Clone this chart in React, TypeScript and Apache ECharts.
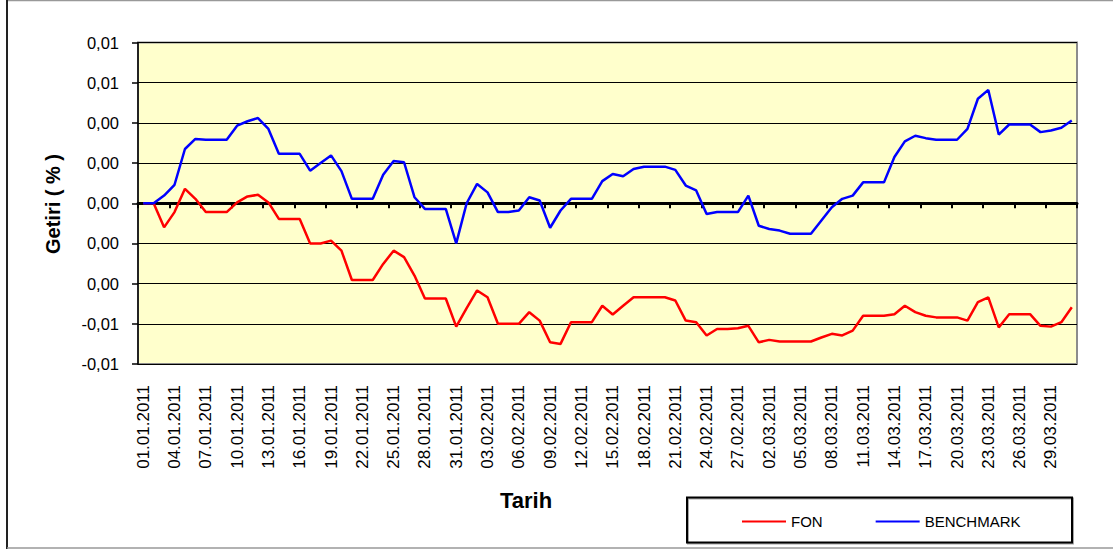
import React, { useEffect, useRef } from "react";
import * as echarts from "echarts";

const dates: string[] = [
  "01.01.2011","02.01.2011","03.01.2011","04.01.2011","05.01.2011","06.01.2011","07.01.2011","08.01.2011","09.01.2011","10.01.2011",
  "11.01.2011","12.01.2011","13.01.2011","14.01.2011","15.01.2011","16.01.2011","17.01.2011","18.01.2011","19.01.2011","20.01.2011",
  "21.01.2011","22.01.2011","23.01.2011","24.01.2011","25.01.2011","26.01.2011","27.01.2011","28.01.2011","29.01.2011","30.01.2011",
  "31.01.2011","01.02.2011","02.02.2011","03.02.2011","04.02.2011","05.02.2011","06.02.2011","07.02.2011","08.02.2011","09.02.2011",
  "10.02.2011","11.02.2011","12.02.2011","13.02.2011","14.02.2011","15.02.2011","16.02.2011","17.02.2011","18.02.2011","19.02.2011",
  "20.02.2011","21.02.2011","22.02.2011","23.02.2011","24.02.2011","25.02.2011","26.02.2011","27.02.2011","28.02.2011","01.03.2011",
  "02.03.2011","03.03.2011","04.03.2011","05.03.2011","06.03.2011","07.03.2011","08.03.2011","09.03.2011","10.03.2011","11.03.2011",
  "12.03.2011","13.03.2011","14.03.2011","15.03.2011","16.03.2011","17.03.2011","18.03.2011","19.03.2011","20.03.2011","21.03.2011",
  "22.03.2011","23.03.2011","24.03.2011","25.03.2011","26.03.2011","27.03.2011","28.03.2011","29.03.2011","30.03.2011","31.03.2011",
];

const fon: number[] = [
  0, 0, -0.0012, -0.00044, 0.00072, 0.00022, -0.00044, -0.00044, -0.00044, 0.00004,
  0.00034, 0.00042, 0.00004, -0.00078, -0.00078, -0.00078, -0.002, -0.002, -0.00186, -0.00236,
  -0.00382, -0.00382, -0.00382, -0.00302, -0.00236, -0.00268, -0.0036, -0.00474, -0.00474, -0.00474,
  -0.00614, -0.00522, -0.00434, -0.00468, -0.006, -0.006, -0.006, -0.00542, -0.00584, -0.00692,
  -0.007, -0.00592, -0.00592, -0.00592, -0.0051, -0.00554, -0.0051, -0.00468, -0.00468, -0.00468,
  -0.00468, -0.00484, -0.00584, -0.00592, -0.00658, -0.00626, -0.00626, -0.00622, -0.0061, -0.00692,
  -0.0068, -0.00688, -0.00688, -0.00688, -0.00688, -0.00668, -0.0065, -0.00658, -0.00634, -0.0056,
  -0.0056, -0.0056, -0.00552, -0.0051, -0.00542, -0.0056, -0.00568, -0.00568, -0.00568, -0.00584,
  -0.00492, -0.00468, -0.00618, -0.00552, -0.00552, -0.00552, -0.0061, -0.00614, -0.00592, -0.00518,
];

const benchmark: number[] = [
  0, 0, 0.00038, 0.00092, 0.0027, 0.0032, 0.00316, 0.00316, 0.00316, 0.00386,
  0.00408, 0.00424, 0.0037, 0.00246, 0.00246, 0.00246, 0.00162, 0.002, 0.00238, 0.0016,
  0.00022, 0.00022, 0.00022, 0.00142, 0.0021, 0.00204, 0.0003, -0.00028, -0.00028, -0.00028,
  -0.002, 0, 0.00096, 0.00054, -0.00044, -0.00044, -0.00036, 0.0003, 0.00014, -0.00122,
  -0.00036, 0.00022, 0.00022, 0.00022, 0.0011, 0.00146, 0.00134, 0.0017, 0.00182, 0.00182,
  0.00182, 0.00166, 0.00088, 0.00064, -0.00054, -0.00044, -0.00044, -0.00044, 0.00038, -0.00112,
  -0.00128, -0.00136, -0.00152, -0.00152, -0.00152, -0.00086, -0.0002, 0.00022, 0.00038, 0.00104,
  0.00104, 0.00104, 0.0023, 0.00308, 0.00336, 0.00324, 0.00316, 0.00316, 0.00316, 0.0037,
  0.0052, 0.00564, 0.00342, 0.00392, 0.00392, 0.00392, 0.00354, 0.00362, 0.00376, 0.00412,
];

const yMin = -0.008;
const yMax = 0.008;
const yStep = 0.002;
const yTickLabels: string[] = ["-0,01", "-0,01", "0,00", "0,00", "0,00", "0,00", "0,00", "0,01", "0,01"];

const seriesNames = ["FON", "BENCHMARK"];
const seriesColors = ["#FF0000", "#0000FF"];

const FONT = "'Liberation Sans', Arial, sans-serif";

export default function App() {
  const ref = useRef<HTMLDivElement>(null);
  useEffect(() => {
    if (!ref.current) return;
    const chart = echarts.init(ref.current, undefined, { renderer: "svg" });
    chart.setOption({
      animation: false,
      backgroundColor: "#FFFFFF",
      textStyle: { fontFamily: FONT },
      grid: {
        left: 138,
        right: 36,
        top: 42.5,
        bottom: 185,
        show: true,
        backgroundColor: "#FFFFCC",
        borderColor: "#8C8C8C",
        borderWidth: 2,
        containLabel: false,
      },
      legend: {
        left: 737,
        top: 509,
        icon: "rect",
        itemWidth: 44,
        itemHeight: 2,
        itemGap: 53,
        textStyle: { fontFamily: FONT, fontSize: 15, color: "#000" },
        data: seriesNames,
      },
      xAxis: [
        {
          type: "category",
          data: dates,
          position: "bottom",
          boundaryGap: true,
          axisLine: { show: false, onZero: false },
          axisTick: { show: false },
          splitLine: { show: false },
          axisLabel: {
            interval: 2,
            rotate: 90,
            margin: 21,
            fontSize: 17,
            color: "#000",
            fontFamily: FONT,
          },
        },
        {
          type: "category",
          data: dates,
          position: "bottom",
          boundaryGap: true,
          axisLine: { show: true, onZero: true, lineStyle: { color: "#000", width: 3 } },
          axisTick: { show: true, interval: 2, length: 5, lineStyle: { color: "#000", width: 2 } },
          axisLabel: { show: false },
          splitLine: { show: false },
        },
      ],
      yAxis: {
        type: "value",
        min: yMin,
        max: yMax,
        interval: yStep,
        axisLine: { show: true, lineStyle: { color: "#000", width: 1.5 } },
        axisTick: { show: true, length: 6, lineStyle: { color: "#000", width: 1.5 } },
        splitLine: { show: true, lineStyle: { color: "#000", width: 1 } },
        axisLabel: {
          margin: 19,
          fontSize: 16.5,
          color: "#000",
          fontFamily: FONT,
          formatter: (v: number) => {
            const idx = Math.round((v - yMin) / yStep);
            return yTickLabels[idx] ?? "";
          },
        },
      },
      series: [
        {
          name: seriesNames[0],
          type: "line",
          data: fon,
          xAxisIndex: 0,
          showSymbol: false,
          symbol: "none",
          lineStyle: { color: seriesColors[0], width: 2.5 },
          itemStyle: { color: seriesColors[0] },
          z: 3,
        },
        {
          name: seriesNames[1],
          type: "line",
          data: benchmark,
          xAxisIndex: 0,
          showSymbol: false,
          symbol: "none",
          lineStyle: { color: seriesColors[1], width: 2.5 },
          itemStyle: { color: seriesColors[1] },
          z: 3,
        },
      ],
      graphic: [
        { type: "line", shape: { x1: 7, y1: 0.5, x2: 1113, y2: 0.5 }, style: { stroke: "#999", lineWidth: 1.5 } },
        { type: "line", shape: { x1: 7, y1: 0, x2: 7, y2: 549 }, style: { stroke: "#222", lineWidth: 2 } },
        { type: "line", shape: { x1: 7, y1: 548, x2: 1113, y2: 548 }, style: { stroke: "#999", lineWidth: 1.5 } },
        {
          type: "rect",
          shape: { x: 687, y: 497.5, width: 385, height: 45 },
          style: { fill: "none", stroke: "#000", lineWidth: 2, shadowColor: "rgba(0,0,0,0.35)", shadowOffsetX: 1, shadowOffsetY: 1, shadowBlur: 1 },
          z: 0,
        },
        {
          type: "text",
          x: 53,
          y: 204,
          rotation: Math.PI / 2,
          style: {
            text: "Getiri ( % )",
            fontFamily: FONT,
            fontSize: 20,
            fontWeight: "bold",
            fill: "#000",
            textAlign: "center",
            textVerticalAlign: "middle",
          },
        },
        {
          type: "text",
          x: 526,
          y: 500,
          style: {
            text: "Tarih",
            fontFamily: FONT,
            fontSize: 22,
            fontWeight: "bold",
            fill: "#000",
            textAlign: "center",
            textVerticalAlign: "middle",
          },
        },
      ],
    });
    return () => chart.dispose();
  }, []);
  return (
    <div
      ref={ref}
      style={{ position: "fixed", left: 0, top: 0, width: 1113, height: 549 }}
    />
  );
}
